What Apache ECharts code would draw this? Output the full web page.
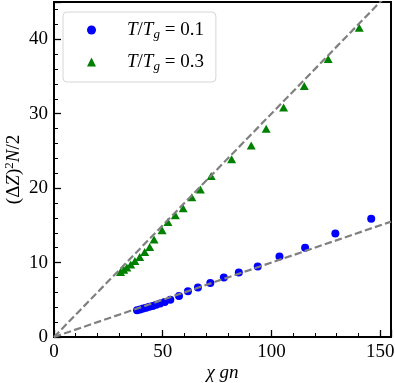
<!DOCTYPE html>
<html>
<head>
<meta charset="utf-8">
<script src="https://cdn.jsdelivr.net/npm/echarts@6/dist/echarts.min.js"></script>
<style>html,body{margin:0;padding:0;background:#fff}#c{width:395px;height:383px}</style>
</head>
<body>
<div id="c"></div>
<script>
// Data
const blueX = [38.2, 39.6, 41.0, 42.4, 43.8, 45.4, 47.0, 48.8, 50.9, 53.5, 57.5, 61.6, 66.2, 71.9, 78.1, 85.0, 93.7, 103.7, 115.5, 129.4, 145.9];
const blueY = [3.59, 3.71, 3.82, 3.93, 4.05, 4.18, 4.32, 4.49, 4.70, 5.00, 5.50, 6.14, 6.64, 7.26, 8.00, 8.67, 9.48, 10.8, 11.98, 13.9, 15.87];
const greenX = [30.6, 32.1, 33.5, 35.3, 37.2, 39.4, 41.7, 44.0, 46.0, 49.7, 52.4, 55.8, 59.4, 63.4, 67.3, 72.3, 81.7, 90.7, 97.6, 105.6, 115.1, 126.1, 140.4];
const greenY = [8.74, 9.05, 9.35, 9.75, 10.2, 10.75, 11.42, 12.1, 13.09, 14.34, 15.46, 16.36, 17.3, 18.78, 19.81, 21.64, 23.88, 25.73, 27.97, 30.83, 33.7, 37.33, 41.53];
const fitBlue = [[0, 0], [155, 15.5]];
const fitGreen = [[0, 0], [155, 46.5]];
const seriesNames = ['a', 'b'];
const legendValues = ['0.1', '0.3'];

const FONT = 'Liberation Serif';
const chart = echarts.init(document.getElementById('c'));
const zip = (xs, ys) => xs.map((x, i) => [x, ys[i]]);
const base = {fontFamily: FONT, fontSize: 19, color: '#000'};

chart.setOption({
  animation: false,
  backgroundColor: '#fff',
  grid: {left: 54, right: 4, top: 2, bottom: 46, containLabel: false, outerBoundsMode: 'none',
         show: true, borderColor: '#000', borderWidth: 2, backgroundColor: 'transparent'},
  legend: {
    data: seriesNames,
    orient: 'vertical',
    left: 63, top: 12,
    padding: [7, 12, 9, 24],
    itemGap: 10,
    itemWidth: 9, itemHeight: 9,
    symbolKeepAspect: true,
    borderColor: '#d6d6d6', borderWidth: 1, borderRadius: 4,
    backgroundColor: 'rgba(255,255,255,0.85)',
    formatter: function (name) {
      const v = legendValues[seriesNames.indexOf(name)];
      return '{sp|}{i|T}{n|/}{i|T}{s|g}{n| = ' + v + '}';
    },
    textStyle: {
      fontFamily: FONT, fontSize: 19, color: '#000', lineHeight: 22,
      rich: {
        sp: {width: 26},
        i: Object.assign({}, base, {fontStyle: 'italic', lineHeight: 22}),
        n: Object.assign({}, base, {lineHeight: 22}),
        s: Object.assign({}, base, {fontStyle: 'italic', fontSize: 13, lineHeight: 13, verticalAlign: 'bottom'})
      }
    }
  },
  xAxis: {
    type: 'value', min: 0, max: 155, interval: 50,
    name: '{i|χ gn}', nameLocation: 'middle', nameGap: 26, nameMoveOverlap: false,
    nameTextStyle: {rich: {i: Object.assign({}, base, {fontStyle: 'italic'})}},
    axisLine: {show: true, lineStyle: {color: '#000', width: 2}},
    axisTick: {show: true, inside: true, length: 7, lineStyle: {color: '#000', width: 1.3}},
    minorTick: {show: true, splitNumber: 5, length: 4, lineStyle: {color: '#000', width: 1}},
    axisLabel: Object.assign({}, base, {margin: 6, showMaxLabel: false}),
    splitLine: {show: false}
  },
  yAxis: {
    type: 'value', min: 0, max: 45, interval: 10,
    name: '{n|(Δ}{i|Z}{n|)}{p|2}{i|N}{n|/2}', nameLocation: 'middle', nameGap: 29, nameMoveOverlap: false,
    nameTextStyle: {rich: {
      n: Object.assign({}, base, {lineHeight: 22}),
      i: Object.assign({}, base, {fontStyle: 'italic', lineHeight: 22}),
      p: Object.assign({}, base, {fontSize: 13, lineHeight: 13, verticalAlign: 'top'})
    }},
    axisLine: {show: true, lineStyle: {color: '#000', width: 2}},
    axisTick: {show: true, inside: true, length: 7, lineStyle: {color: '#000', width: 1.3}},
    minorTick: {show: true, splitNumber: 5, length: 4, lineStyle: {color: '#000', width: 1}},
    axisLabel: Object.assign({}, base, {margin: 6, showMaxLabel: false}),
    splitLine: {show: false}
  },
  series: [
    {name: 'a', type: 'scatter', data: zip(blueX, blueY), symbol: 'circle', symbolSize: 8,
     itemStyle: {color: '#0000ff', opacity: 1}, z: 2},
    {name: 'b', type: 'scatter', data: zip(greenX, greenY), symbol: 'triangle', symbolSize: [9, 8],
     itemStyle: {color: '#008000', opacity: 1}, z: 2},
    {name: 'fa', type: 'line', data: fitBlue, symbol: 'none', silent: true, clip: true,
     lineStyle: {color: '#808080', width: 2.2, type: [7.4, 3.2]}, z: 3},
    {name: 'fb', type: 'line', data: fitGreen, symbol: 'none', silent: true, clip: true,
     lineStyle: {color: '#808080', width: 2.2, type: [7.4, 3.2]}, z: 3}
  ]
});
</script>
</body>
</html>
